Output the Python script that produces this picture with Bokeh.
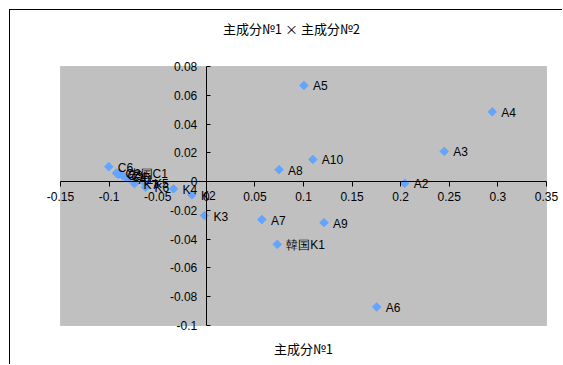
from bokeh.plotting import figure
from bokeh.models import Range1d, FixedTicker, Label, ColumnDataSource, LinearAxis, BoxAnnotation
from bokeh.core.properties import value
from bokeh.embed import file_html
from bokeh.resources import INLINE
import math

# principal component scores (PC1, PC2)
labels = ["A2", "A3", "A4", "A5", "A6", "A7", "A8", "A9", "A10", "韓国K1",
          "K2", "K3", "K4", "K7", "K5", "K6",
          "中国C1", "C2", "C3", "C4", "C5", "A1", "C6"]
pc1 = [0.2041, 0.2448, 0.2942, 0.1004, 0.1753, 0.0572, 0.0749, 0.1211, 0.1096, 0.0730,
       -0.0148, -0.0019, -0.0337, -0.0739, -0.0631, -0.0625,
       -0.0893, -0.0924, -0.0903, -0.0862, -0.0831, -0.0790, -0.1003]
pc2 = [-0.0012, 0.0210, 0.0485, 0.0668, -0.0871, -0.0264, 0.0083, -0.0285, 0.0154, -0.0436,
       -0.0092, -0.0236, -0.0050, -0.0014, -0.0012, -0.0040,
       0.0062, 0.0059, 0.0049, 0.0042, 0.0031, 0.0021, 0.0104]

x_ticks = [-0.15, -0.1, -0.05, 0.0, 0.05, 0.1, 0.15, 0.2, 0.25, 0.3, 0.35]
x_tick_labels = ["-0.15", "-0.1", "-0.05", "0", "0.05", "0.1", "0.15", "0.2", "0.25", "0.3", "0.35"]
y_ticks = [-0.1, -0.08, -0.06, -0.04, -0.02, 0.0, 0.02, 0.04, 0.06, 0.08]
y_tick_labels = ["-0.1", "-0.08", "-0.06", "-0.04", "-0.02", "0", "0.02", "0.04", "0.06", "0.08"]

title_text = "主成分№1 × 主成分№2"
x_title = "主成分№1"

# layout (pixels): plot area 486 x 259 inside a 553 x 355 canvas (frame = whole canvas)
PLOT_W, PLOT_H = 486, 259
PAD_L, PAD_R, PAD_T, PAD_B = 50, 17, 56, 40
kx = (x_ticks[-1] - x_ticks[0]) / PLOT_W
ky = (y_ticks[-1] - y_ticks[0]) / PLOT_H
x_mid = (x_ticks[0] + x_ticks[-1]) / 2

src = ColumnDataSource(dict(x=pc1, y=pc2, name=labels))

p = figure(width=553, height=355,
           x_range=Range1d(x_ticks[0] - PAD_L * kx, x_ticks[-1] + PAD_R * kx),
           y_range=Range1d(y_ticks[0] - PAD_B * ky, y_ticks[-1] + PAD_T * ky),
           x_axis_type=None, y_axis_type=None,
           output_backend="svg", toolbar_location=None,
           min_border_left=0, min_border_right=0,
           min_border_top=0, min_border_bottom=0)
p.background_fill_color = "white"
p.border_fill_color = "white"
p.outline_line_color = None
p.styles = {"margin-left": "9px", "margin-top": "9px",
            "border-left": "1px solid #000000", "border-top": "1px solid #000000"}

# gray plot area
p.add_layout(BoxAnnotation(left=x_ticks[0], right=x_ticks[-1], bottom=y_ticks[0], top=y_ticks[-1],
                           fill_color="#c0c0c0", fill_alpha=1.0,
                           line_color="#808080", line_width=1, level="underlay"))

# chart title and x-axis title
p.add_layout(Label(x=x_mid - 12 * kx, y=y_ticks[-1] + 38 * ky, text=title_text,
                   text_align="center", text_baseline="middle",
                   text_font="Noto Sans CJK JP", text_font_size="13px", text_color="black"))
p.add_layout(Label(x=x_mid, y=y_ticks[0] - 23 * ky, text=x_title,
                   text_align="center", text_baseline="middle",
                   text_font="Noto Sans CJK JP", text_font_size="13px", text_color="black"))

xaxis = LinearAxis(fixed_location=0, ticker=FixedTicker(ticks=x_ticks),
                   bounds=(x_ticks[0], x_ticks[-1]),
                   major_label_overrides=dict(zip(x_ticks, x_tick_labels)))
yaxis = LinearAxis(fixed_location=0, ticker=FixedTicker(ticks=y_ticks),
                   bounds=(y_ticks[0], y_ticks[-1]),
                   major_label_overrides=dict(zip(y_ticks, y_tick_labels)))
for ax in (xaxis, yaxis):
    ax.axis_line_color = "black"
    ax.axis_line_width = 1
    ax.major_tick_line_color = "black"
    ax.minor_tick_line_color = None
    ax.major_label_text_font = "Liberation Sans"
    ax.major_label_text_font_size = "12px"
    ax.major_label_text_color = "black"
xaxis.major_tick_in = 0
xaxis.major_tick_out = 5
xaxis.major_label_standoff = 5
yaxis.major_tick_in = 4
yaxis.major_tick_out = 0
yaxis.major_label_standoff = 9
p.add_layout(xaxis, "below")
p.add_layout(yaxis, "left")

p.scatter("x", "y", source=src, marker="square", angle=math.pi / 4, size=6,
          fill_color="#63a4ff", line_color="#63a4ff")
p.text("x", "y", text="name", source=src, x_offset=9, y_offset=1,
       text_font=value("Liberation Sans"), text_font_size="12px",
       text_baseline="middle", text_align="left", text_color="black")

open("out.html", "w").write(file_html(p, INLINE))
